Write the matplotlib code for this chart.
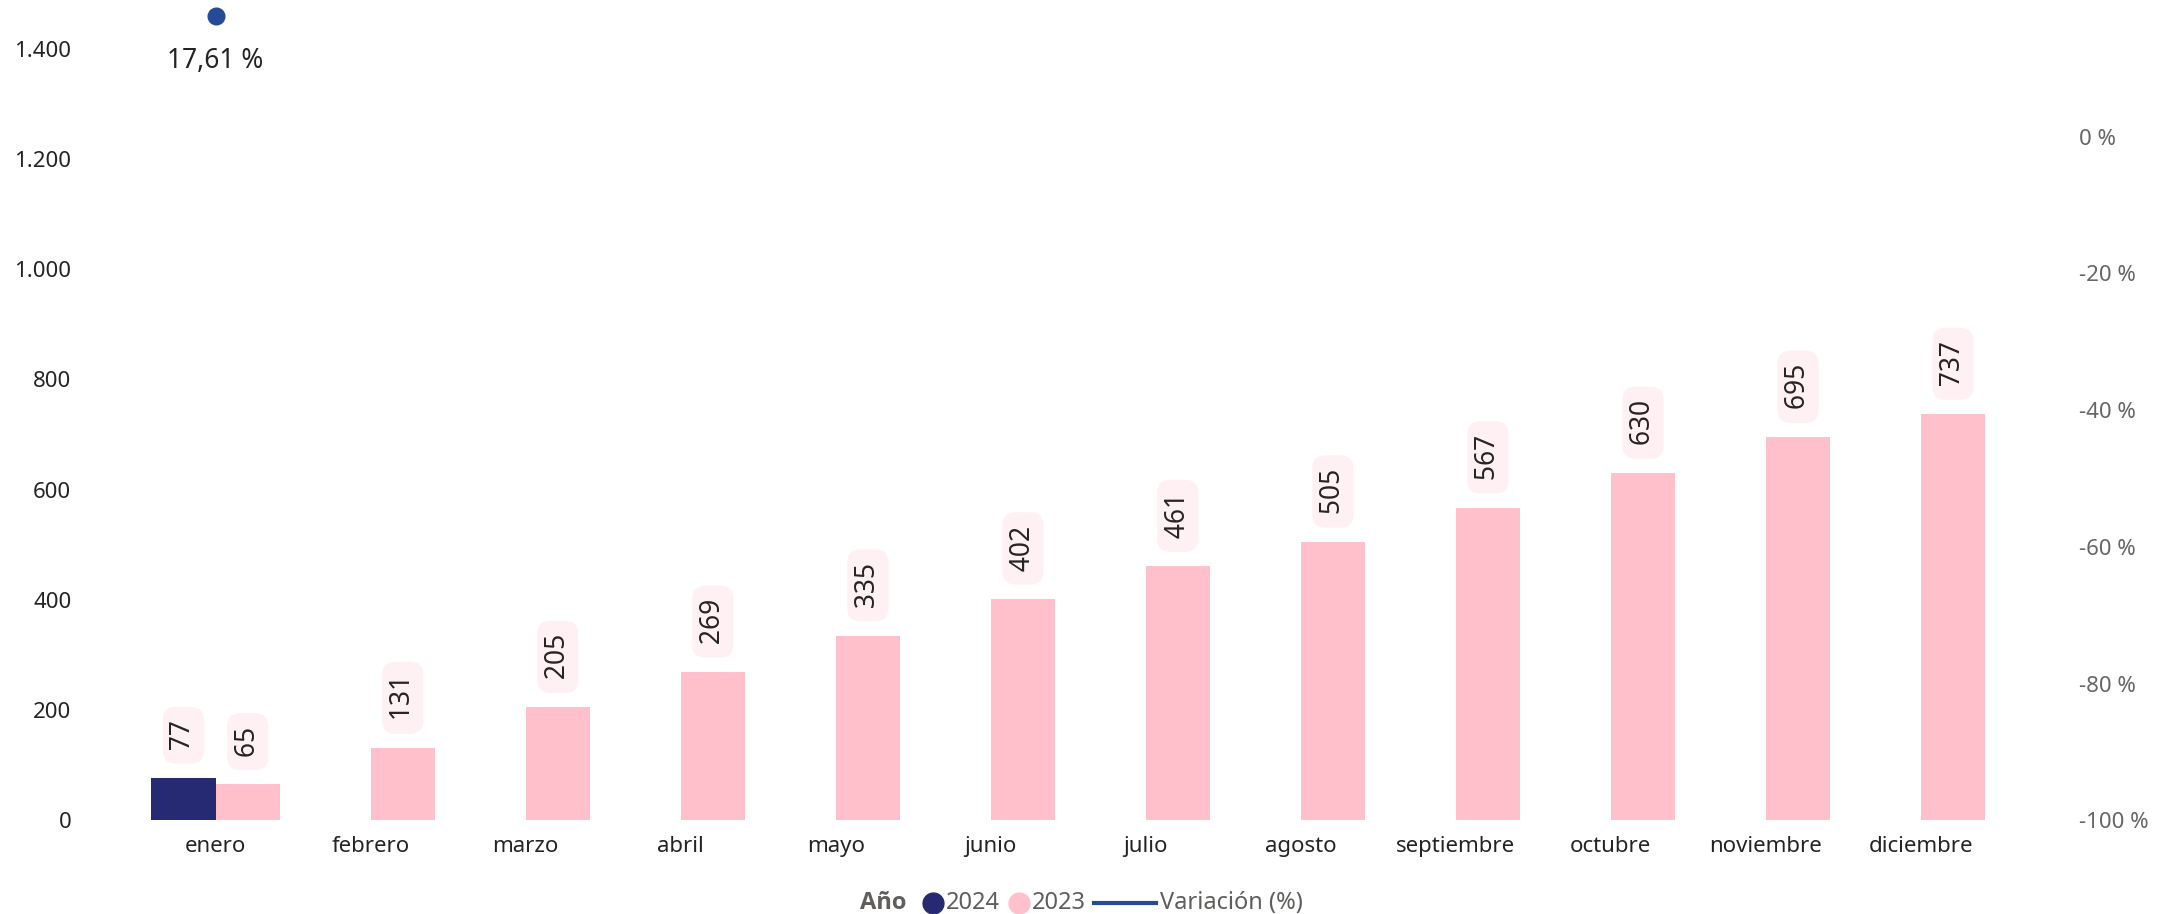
import matplotlib.pyplot as plt
import numpy as np
from matplotlib.lines import Line2D

plt.rcParams['font.family'] = ['Noto Sans', 'DejaVu Sans']

meses = ['enero', 'febrero', 'marzo', 'abril', 'mayo', 'junio', 'julio',
         'agosto', 'septiembre', 'octubre', 'noviembre', 'diciembre']
valores_2024 = [77, None, None, None, None, None, None, None, None, None, None, None]
valores_2023 = [65, 131, 205, 269, 335, 402, 461, 505, 567, 630, 695, 737]
variacion = [17.61]  # enero, en %

color_2024 = '#252A72'
color_2023 = '#FFC0CB'
color_var = '#264B96'
color_box = '#FFF0F3'


def etiqueta(ax, x, y, txt):
    ax.annotate(' ' + txt + ' ', (x, y), xytext=(0, 15), textcoords='offset points',
                rotation=90, ha='center', va='bottom', fontsize=19,
                color='#252423',
                bbox=dict(boxstyle='round,pad=0.25,rounding_size=0.5',
                          fc=color_box, ec='none'))


fig = plt.figure(figsize=(21.84, 9.14), dpi=100)
ax = fig.add_axes([0.0632, 0.1025, 0.8518, 0.8975])
x = np.arange(len(meses))
w = 0.415

for i, v in enumerate(valores_2024):
    if v is not None:
        ax.bar(x[i] - w / 2, v, w, color=color_2024)
        etiqueta(ax, x[i] - w / 2, v, str(v))
ax.bar(x + w / 2, valores_2023, w, color=color_2023)
for i, v in enumerate(valores_2023):
    etiqueta(ax, x[i] + w / 2, v, str(v))

ax.set_xlim(-0.5, len(meses) - 0.5)
ax.set_ylim(0, 1488)
ax.set_yticks(range(0, 1401, 200))
ax.set_yticklabels(['0', '200', '400', '600', '800', '1.000', '1.200', '1.400'])
ax.set_xticks(x)
ax.set_xticklabels(meses)
ax.tick_params(axis='y', length=0, labelsize=16, pad=48, labelcolor='#252423')
ax.tick_params(axis='x', length=0, labelsize=16, pad=11, labelcolor='#252423')
for s in ax.spines.values():
    s.set_visible(False)

ax2 = ax.twinx()
ax2.set_ylim(-100, 20)
ax2.set_yticks(range(-100, 1, 20))
ax2.set_yticklabels([f'{t} %' for t in range(-100, 1, 20)])
ax2.tick_params(axis='y', length=0, labelsize=16, pad=58, labelcolor='#666666')
for s in ax2.spines.values():
    s.set_visible(False)
ax2.plot(x[:len(variacion)], variacion, 'o', color=color_var, markersize=12,
         clip_on=False)
for i, v in enumerate(variacion):
    ax2.annotate(f'{v:.2f} %'.replace('.', ','), (x[i], v), xytext=(0, -22),
                 textcoords='offset points', ha='center', va='top',
                 fontsize=19, color='#252423')

# leyenda hecha a mano (coordenadas en pixeles de la figura)
W, H = 2184, 914
yl = 1 - 903 / H
gris = '#605E5C'
fig.text(860 / W, yl, 'Año', fontsize=17, fontweight='bold', color=gris,
         va='center', family=['Open Sans', 'DejaVu Sans'])
fig.add_artist(Line2D([933 / W], [yl], marker='o', color=color_2024,
                      markersize=15, ls='none'))
fig.text(946 / W, yl, '2024', fontsize=17, color=gris, va='center')
fig.add_artist(Line2D([1019 / W], [yl], marker='o', color=color_2023,
                      markersize=15, ls='none'))
fig.text(1032 / W, yl, '2023', fontsize=17, color=gris, va='center')
fig.add_artist(Line2D([1094 / W, 1156 / W], [yl, yl], color=color_var, lw=3))
fig.text(1160 / W, yl, 'Variación (%)', fontsize=17, color=gris, va='center')

fig.savefig('out.png', dpi=100)
